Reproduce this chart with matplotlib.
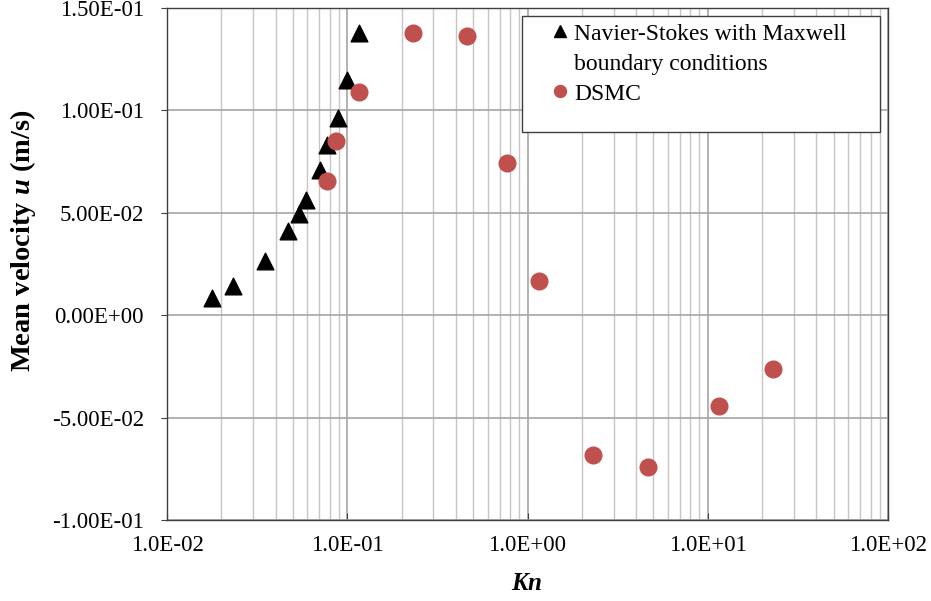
import matplotlib.pyplot as plt
from matplotlib.lines import Line2D
from matplotlib.patches import Rectangle
from matplotlib.ticker import FuncFormatter, LogLocator, MultipleLocator

plt.rcParams["font.family"] = "Liberation Serif"
plt.rcParams["mathtext.fontset"] = "custom"
plt.rcParams["mathtext.rm"] = "Liberation Serif"
plt.rcParams["mathtext.bf"] = "Liberation Serif:bold"
plt.rcParams["mathtext.it"] = "Liberation Serif:italic"
plt.rcParams["mathtext.bfit"] = "Liberation Serif:bold:italic"

# Navier-Stokes with Maxwell boundary conditions
ns_kn = [0.0177, 0.0233, 0.0351, 0.0471, 0.054, 0.059, 0.0706, 0.0772, 0.0885, 0.100, 0.1166]
ns_u = [0.0084, 0.0142, 0.0265, 0.0410, 0.0496, 0.0561, 0.0711, 0.0829, 0.0964, 0.1146, 0.1377]

# DSMC
dsmc_kn = [0.0769, 0.0862, 0.1158, 0.2306, 0.459, 0.769, 1.157, 2.31, 4.65, 11.5, 22.9]
dsmc_u = [0.0654, 0.0849, 0.1091, 0.1377, 0.1361, 0.0745, 0.0167, -0.0684, -0.0741, -0.0442, -0.0263]

fig = plt.figure(figsize=(9.31, 6.01), dpi=100)
ax = fig.add_axes([0.1794, 0.1348, 0.7744, 0.8519])

ax.scatter(ns_kn, ns_u, marker="^", s=12 ** 2, color="black", zorder=3)
ax.scatter(dsmc_kn, dsmc_u, marker="o", s=12 ** 2, color="#C0504D", zorder=3)

ax.set_xscale("log")
ax.set_xlim(1e-2, 1e2)
ax.set_ylim(-0.1, 0.15)
ax.yaxis.set_major_locator(MultipleLocator(0.05))
ax.xaxis.set_major_locator(LogLocator(base=10))
ax.xaxis.set_minor_locator(LogLocator(base=10, subs=range(2, 10)))

ax.xaxis.set_major_formatter(FuncFormatter(lambda v, p: "%.1E" % v))
ax.xaxis.set_minor_formatter(FuncFormatter(lambda v, p: ""))
ax.yaxis.set_major_formatter(FuncFormatter(lambda v, p: "%.2E" % (0 if abs(v) < 1e-12 else v)))

ax.grid(True, which="major", axis="both", color="#a6a6a6", linewidth=1.2, zorder=0)
ax.grid(True, which="minor", axis="x", color="#c6c6c6", linewidth=1.0, zorder=0)
ax.set_axisbelow(True)
for s in ax.spines.values():
    s.set_color("#404040")
    s.set_linewidth(1.0)

ax.tick_params(axis="x", which="major", direction="in", length=5, color="#404040", labelsize=16.5, pad=11)
ax.tick_params(axis="x", which="minor", length=0)
ax.tick_params(axis="y", direction="out", length=4.5, color="#404040", labelsize=16.5, pad=12)

ax.set_xlabel(r"$\mathbfit{Kn}$", fontsize=18)
ax.xaxis.set_label_coords(0.499, -0.104)
ax.set_ylabel(r"Mean velocity $\mathbfit{u}$ (m/s)", fontsize=20.5, fontweight="bold")
ax.yaxis.set_label_coords(-0.179, 0.545)

# legend box drawn separately so its padding matches
ax.add_patch(Rectangle((0.492, 0.758), 0.497, 0.227, transform=ax.transAxes,
                       facecolor="white", edgecolor="#404040", linewidth=1.0, zorder=4))
handles = [
    Line2D([], [], marker="^", color="black", linestyle="none", markersize=8.6),
    Line2D([], [], linestyle="none"),
    Line2D([], [], marker="o", color="#C0504D", linestyle="none", markersize=8.6),
]
labels = ["Navier-Stokes with Maxwell", "boundary conditions", "DSMC"]
leg = ax.legend(handles, labels, loc="upper left", bbox_to_anchor=(0.535, 0.9707),
                fontsize=17, frameon=False, handlelength=0.6, handletextpad=0.3,
                borderpad=0, labelspacing=0.36, borderaxespad=0)
leg.set_zorder(5)

fig.savefig("out.png", dpi=100)
